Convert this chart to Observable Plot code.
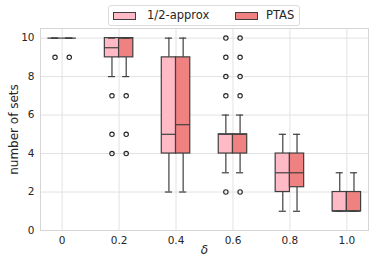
<!DOCTYPE html>
<html>
<head>
<meta charset="utf-8">
<script src="https://cdn.jsdelivr.net/npm/d3@7"></script>
<script src="https://cdn.jsdelivr.net/npm/@observablehq/plot@0.6"></script>
<style>
  html, body { margin: 0; padding: 0; background: #fff; }
  #wrap { position: relative; width: 374px; height: 266px; font-family: "DejaVu Sans", sans-serif; color: #262626; }
  #legend { position: absolute; left: 108px; top: 5px; width: 192px; height: 21px; border: 1px solid #dcdcdc; border-radius: 3px; background: #fff; font-size: 11.5px; box-sizing: border-box; }
  .sw { position: absolute; top: 6px; width: 23px; height: 8px; border: 1px solid #3f3f3f; box-sizing: border-box; }
  .lt { position: absolute; top: 3px; line-height: 13px; white-space: nowrap; }
</style>
</head>
<body>
<div id="wrap"></div>
<script>
const deltas = ["0", "0.2", "0.4", "0.6", "0.8", "1.0"];
const methods = ["1/2-approx", "PTAS"];
const colors = ["#ffbac6", "#ef8181"];

const approxQ1  = [10, 9,   4, 4, 2,    1];
const approxMed = [10, 9.5, 5, 5, 3,    1];
const approxQ3  = [10, 10,  9, 5, 4,    2];
const approxLo  = [10, 8,   2, 3, 1,    1];
const approxHi  = [10, 10, 10, 6, 5,    3];
const approxOut = [[9], [7, 5, 4], [], [10, 9, 8, 7, 2], [], []];

const ptasQ1  = [10, 9,   4,   4, 2.25, 1];
const ptasMed = [10, 10,  5.5, 5, 3,    1];
const ptasQ3  = [10, 10,  9,   5, 4,    2];
const ptasLo  = [10, 8,   2,   3, 1,    1];
const ptasHi  = [10, 10, 10,   6, 5,    3];
const ptasOut = [[9], [7, 5, 4], [], [10, 9, 8, 7, 2], [], []];

const series = [
  {q1: approxQ1, med: approxMed, q3: approxQ3, lo: approxLo, hi: approxHi, out: approxOut},
  {q1: ptasQ1, med: ptasMed, q3: ptasQ3, lo: ptasLo, hi: ptasHi, out: ptasOut}
];

const rows = [];
const outliers = [];
series.forEach((s, k) => {
  deltas.forEach((dl, i) => {
    rows.push({i, k, method: methods[k], q1: s.q1[i], med: s.med[i], q3: s.q3[i], lo: s.lo[i], hi: s.hi[i]});
    s.out[i].forEach(v => outliers.push({i, k, method: methods[k], v}));
  });
});

const half = 0.125;
const pos = d => d.i + (d.k === 0 ? -half : half);
const edge = "#3f3f3f";
const sw = 1.2;

const chart = Plot.plot({
  width: 374,
  height: 266,
  marginLeft: 40,
  marginRight: 6,
  marginTop: 28,
  marginBottom: 36,
  style: {fontFamily: "DejaVu Sans, sans-serif", fontSize: "10.5px", color: "#262626", background: "#fff"},
  x: {domain: [-0.38, 5.38], ticks: d3.range(deltas.length), tickFormat: i => deltas[i], tickSize: 0, tickPadding: 6, label: null},
  y: {domain: [0, 10.5], ticks: [0, 2, 4, 6, 8, 10], tickSize: 0, tickPadding: 6, label: "number of sets", labelAnchor: "center", labelArrow: "none", labelOffset: 31},
  color: {domain: methods, range: colors},
  marks: [
    Plot.gridX(d3.range(deltas.length), {stroke: "#e2e2e2", strokeOpacity: 1, strokeWidth: 1}),
    Plot.gridY([0, 2, 4, 6, 8, 10], {stroke: "#e2e2e2", strokeOpacity: 1, strokeWidth: 1}),
    Plot.frame({stroke: "#d6d6d6", strokeWidth: 1}),
    Plot.ruleX(rows.filter(d => d.hi > d.q3), {x: pos, y1: "q3", y2: "hi", stroke: edge, strokeWidth: sw}),
    Plot.ruleX(rows.filter(d => d.lo < d.q1), {x: pos, y1: "lo", y2: "q1", stroke: edge, strokeWidth: sw}),
    Plot.rect(rows.filter(d => d.q3 > d.q1), {x1: d => pos(d) - half, x2: d => pos(d) + half, y1: "q1", y2: "q3", fill: "method", stroke: edge, strokeWidth: sw, inset: 0}),
    Plot.ruleY(rows, {y: "med", x1: d => pos(d) - half, x2: d => pos(d) + half, stroke: edge, strokeWidth: sw}),
    Plot.ruleY(rows, {y: "hi", x1: d => pos(d) - half / 2, x2: d => pos(d) + half / 2, stroke: edge, strokeWidth: sw}),
    Plot.ruleY(rows, {y: "lo", x1: d => pos(d) - half / 2, x2: d => pos(d) + half / 2, stroke: edge, strokeWidth: sw}),
    Plot.dot(outliers, {x: pos, y: "v", r: 2.2, stroke: "#262626", strokeWidth: 1.1, fill: "none"}),
    Plot.text(["δ"], {frameAnchor: "bottom", dy: 23, fontStyle: "italic", fontSize: 12, fill: "#262626"})
  ]
});

d3.select(chart).select('g[aria-label="y-axis label"]').attr("font-size", 12);

const wrap = document.getElementById("wrap");
wrap.appendChild(chart);

const legend = document.createElement("div");
legend.id = "legend";
const items = [{x: 4, tx: 38}, {x: 126, tx: 157}];
methods.forEach((m, k) => {
  const s = document.createElement("div");
  s.className = "sw";
  s.style.left = items[k].x + "px";
  s.style.background = colors[k];
  legend.appendChild(s);
  const t = document.createElement("div");
  t.className = "lt";
  t.style.left = items[k].tx + "px";
  t.textContent = m;
  legend.appendChild(t);
});
wrap.appendChild(legend);
</script>
</body>
</html>
